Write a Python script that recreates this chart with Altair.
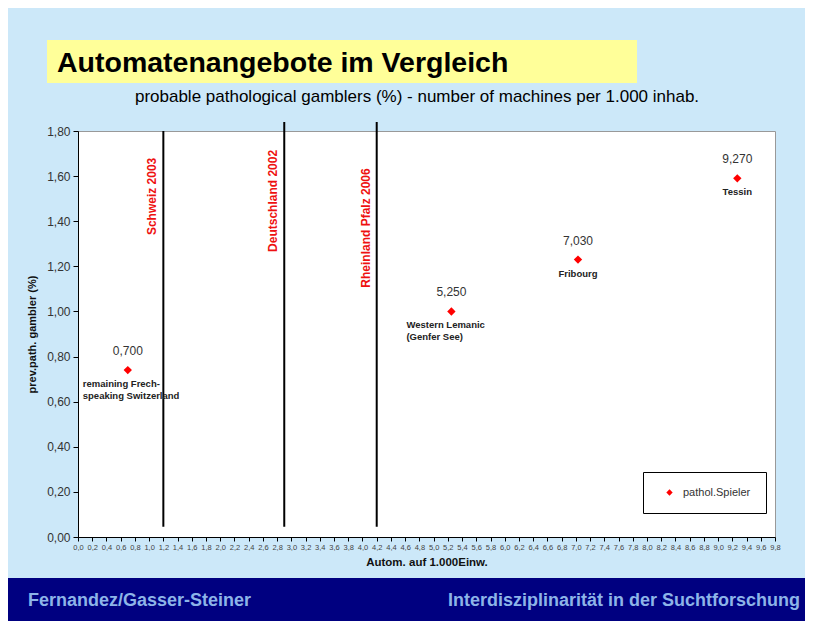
import altair as alt
import pandas as pd

# ---- data ----
machines = [0.70, 5.25, 7.03, 9.27]
prevalence = [0.74, 1.00, 1.23, 1.59]
value_labels = ["0,700", "5,250", "7,030", "9,270"]
region_names = ["remaining Frech-\nspeaking Switzerland", "Western Lemanic\n(Genfer See)", "Fribourg", "Tessin"]
multi_line = [True, True, False, False]
series_name = "pathol.Spieler"

study_names = ["Schweiz 2003", "Deutschland 2002", "Rheinland Pfalz 2006"]
study_machines = [1.2, 2.9, 4.2]
study_low = [0.045, 0.045, 0.045]
study_high = [1.80, 1.84, 1.84]
study_label_y = [1.51, 1.49, 1.37]

x_ticks = [0.0, 0.2, 0.4, 0.6, 0.8, 1.0, 1.2, 1.4, 1.6, 1.8, 2.0, 2.2, 2.4, 2.6, 2.8,
           3.0, 3.2, 3.4, 3.6, 3.8, 4.0, 4.2, 4.4, 4.6, 4.8, 5.0, 5.2, 5.4, 5.6, 5.8,
           6.0, 6.2, 6.4, 6.6, 6.8, 7.0, 7.2, 7.4, 7.6, 7.8, 8.0, 8.2, 8.4, 8.6, 8.8,
           9.0, 9.2, 9.4, 9.6, 9.8]
y_ticks = [0.0, 0.2, 0.4, 0.6, 0.8, 1.0, 1.2, 1.4, 1.6, 1.8]

title_text = "Automatenangebote im Vergleich"
subtitle_text = "probable pathological gamblers (%) - number of machines per 1.000 inhab."
footer_left = "Fernandez/Gasser-Steiner"
footer_right = "Interdisziplinarität in der Suchtforschung"

FONT = "Liberation Sans, Arial, Helvetica, sans-serif"
BG = "#CCE8F9"
NAVY = "#000080"

pts = pd.DataFrame({
    "machines": machines,
    "prevalence": prevalence,
    "value_label": value_labels,
    "name": region_names,
    "multi": multi_line,
    "series": [series_name] * len(machines),
})
studies = pd.DataFrame({
    "name": study_names,
    "machines": study_machines,
    "low": study_low,
    "high": study_high,
    "label_y": study_label_y,
})
one = pd.DataFrame({"k": [0]})

x_scale = alt.Scale(domain=[0, 9.8], nice=False, zero=False)
y_scale = alt.Scale(domain=[0, 1.8], nice=False, zero=False)

x_axis = alt.Axis(
    values=x_ticks,
    labelExpr="replace(format(datum.value, '.1f'), '.', ',')",
    labelFontSize=7.5, labelColor="#444444", labelFont=FONT,
    labelOverlap=False, labelFlush=False, labelPadding=2,
    tickSize=4, tickColor="black", domainColor="black", grid=False,
    title="Autom. auf 1.000Einw.", titleFont=FONT, titleFontSize=11.5,
    titleFontWeight="bold", titleColor="#111111", titlePadding=6,
)
y_axis = alt.Axis(
    values=y_ticks,
    labelExpr="replace(format(datum.value, '.2f'), '.', ',')",
    labelFontSize=12, labelColor="#333333", labelFont=FONT, labelPadding=3,
    tickSize=5, tickColor="black", domainColor="black", grid=False,
    title="prev.path. gambler (%)", titleFont=FONT, titleFontSize=11,
    titleFontWeight="bold", titleColor="#111111", titlePadding=9,
)

X = alt.X("machines:Q", scale=x_scale, axis=x_axis)
Y = alt.Y("prevalence:Q", scale=y_scale, axis=y_axis)

# decorations (slide frame)
footer_band = alt.Chart(one).mark_rect(color=NAVY).encode(
    x=alt.value(-70), x2=alt.value(735), y=alt.value(447), y2=alt.value(500))
title_box = alt.Chart(one).mark_rect(color="#FFFF99").encode(
    x=alt.value(-31), x2=alt.value(559), y=alt.value(-91), y2=alt.value(-48))
title_mark = alt.Chart(one).mark_text(
    font=FONT, fontSize=28.5, fontWeight="bold", color="black", align="left", baseline="middle"
).encode(x=alt.value(-21), y=alt.value(-68), text=alt.value(title_text))
subtitle_mark = alt.Chart(one).mark_text(
    font=FONT, fontSize=17, color="black", align="center", baseline="middle"
).encode(x=alt.value(339), y=alt.value(-34), text=alt.value(subtitle_text))
foot_l = alt.Chart(one).mark_text(
    font=FONT, fontSize=18, fontWeight="bold", color="#8DB4E8", align="left", baseline="middle"
).encode(x=alt.value(-50), y=alt.value(470), text=alt.value(footer_left))
foot_r = alt.Chart(one).mark_text(
    font=FONT, fontSize=18, fontWeight="bold", color="#8DB4E8", align="right", baseline="middle"
).encode(x=alt.value(722), y=alt.value(470), text=alt.value(footer_right))

# study reference lines
rules = alt.Chart(studies).mark_rule(color="black", strokeWidth=2).encode(
    x=alt.X("machines:Q", scale=x_scale, axis=x_axis),
    y=alt.Y("low:Q", scale=y_scale, axis=y_axis),
    y2="high:Q",
)
study_text = alt.Chart(studies).mark_text(
    angle=270, font=FONT, fontSize=12, fontWeight="bold", color="#EE1111",
    align="center", baseline="bottom", dy=-4,
).encode(
    x=alt.X("machines:Q", scale=x_scale, axis=x_axis),
    y=alt.Y("label_y:Q", scale=y_scale, axis=y_axis),
    text="name:N",
)

points = alt.Chart(pts).mark_point(shape="diamond", filled=True, size=70, opacity=1).encode(
    x=X, y=Y,
    color=alt.Color("series:N", scale=alt.Scale(range=["#FF0000"]),
                    legend=alt.Legend(
                        title=None, orient="none", legendX=565, legendY=341,
                        strokeColor="black", fillColor="white", padding=15,
                        symbolType="diamond", symbolSize=40, symbolStrokeWidth=0,
                        symbolOffset=6, labelOffset=8,
                        labelFont=FONT, labelFontSize=11, labelColor="#333333")),
)
values_text = alt.Chart(pts).mark_text(
    font=FONT, fontSize=12, color="#333333", align="center", baseline="middle", dy=-19
).encode(x=X, y=Y, text="value_label:N")
names_multi = alt.Chart(pts).transform_filter("datum.multi").mark_text(
    font=FONT, fontSize=9.5, fontWeight="bold", color="#222222", align="left",
    baseline="top", dy=9, dx=-45, lineBreak="\n", lineHeight=12,
).encode(x=X, y=Y, text="name:N")
names_single = alt.Chart(pts).transform_filter("!datum.multi").mark_text(
    font=FONT, fontSize=9.5, fontWeight="bold", color="#222222", align="center",
    baseline="top", dy=9,
).encode(x=X, y=Y, text="name:N")

chart = alt.layer(
    footer_band, title_box, title_mark, subtitle_mark, foot_l, foot_r,
    rules, study_text, points, values_text, names_multi, names_single,
).properties(
    width=697, height=406,
    padding={"left": 70, "top": 123, "right": 30, "bottom": 84},
    autosize=alt.AutoSizeParams(type="none"),
    background=BG,
).configure_view(
    fill="white", stroke="#999999", strokeWidth=1,
)

chart.save("out.html", embed_options={"renderer": "svg", "actions": False})
